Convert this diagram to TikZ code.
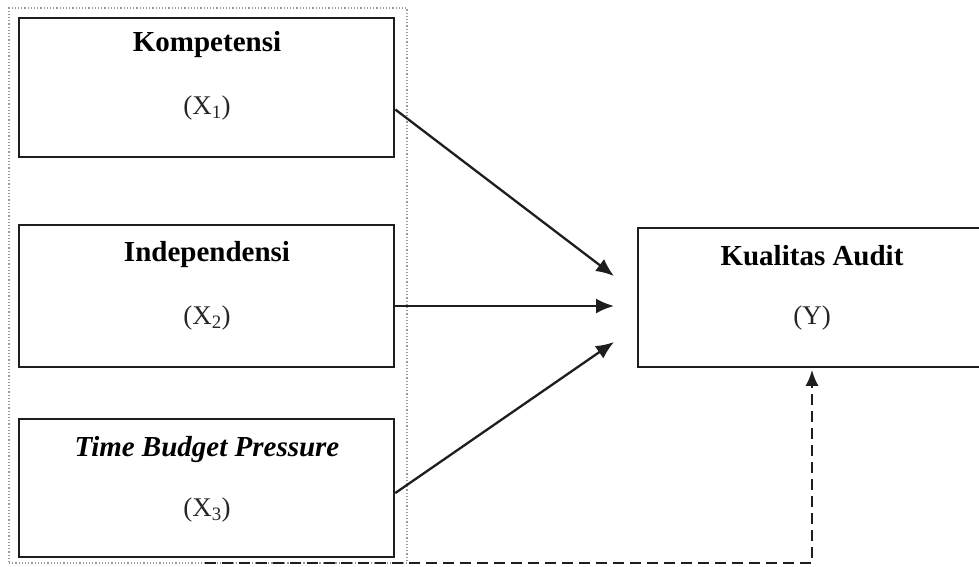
\documentclass[tikz,border=0pt]{standalone}
\usepackage{fontspec}
\setmainfont{Liberation Serif}
\usetikzlibrary{arrows.meta}
\definecolor{boxline}{HTML}{1E1E1E}
\definecolor{dotline}{HTML}{9A9A9A}
\tikzset{
  varbox/.style={draw=boxline, line width=2.6pt, rectangle, inner sep=0pt},
  titletext/.style={font=\fontsize{29}{34}\selectfont\bfseries, inner sep=0pt, text=black},
  subtext/.style={font=\fontsize{27}{32}\selectfont, inner sep=0pt, text=black!85},
  arr/.style={draw=boxline, line width=2.3pt, -{Latex[length=18pt,width=15pt]}},
  darr/.style={draw=boxline, line width=2.3pt, dash pattern=on 11pt off 6pt, -{Latex[length=16pt,width=13pt]}},
  groupbox/.style={draw=dotline, line width=1.2pt, dotted}
}
\begin{document}
\begin{tikzpicture}[x=1pt,y=-1pt]
\useasboundingbox (0,0) rectangle (979,566);
\clip (0,0) rectangle (979,566);
\fill[white] (0,0) rectangle (979,566);
% group frame
\node[groupbox, minimum width=398pt, minimum height=555pt, inner sep=0pt] (grp) at (208,285.5) {};
% boxes
\node[varbox, minimum width=375pt, minimum height=139pt] (b1) at (206.5,87.5) {};
\node[varbox, minimum width=375pt, minimum height=142pt] (b2) at (206.5,296) {};
\node[varbox, minimum width=375pt, minimum height=138pt] (b3) at (206.5,488) {};
\node[varbox, minimum width=348pt, minimum height=139pt] (k) at (812,297.5) {};
% texts
\node[titletext] (t1) at (207,45) {Kompetensi};
\node[subtext] (s1) at (207,108) {(X\textsubscript{1})};
\node[titletext] (t2) at (207,255) {Independensi};
\node[subtext] (s2) at (207,318) {(X\textsubscript{2})};
\node[titletext] (t3) at (207,450) {\itshape Time Budget Pressure};
\node[subtext] (s3) at (207,510) {(X\textsubscript{3})};
\node[titletext] (tk) at (812,256) {Kualitas Audit};
\node[subtext] (sk) at (812,318) {(Y)};
% arrow targets
\coordinate (e1) at (614,276);
\coordinate (e2) at (614,306);
\coordinate (e3) at (614,342);
\coordinate (d0) at (205,563);
\draw[arr] ([yshift=-22pt]b1.east) -- (e1);
\draw[arr] ([yshift=-10pt]b2.east) -- (e2);
\draw[arr] ([yshift=-5pt]b3.east) -- (e3);
\draw[darr] (d0) -- (k.south |- d0) -- ([yshift=-1.5pt]k.south);
\end{tikzpicture}
\end{document}
